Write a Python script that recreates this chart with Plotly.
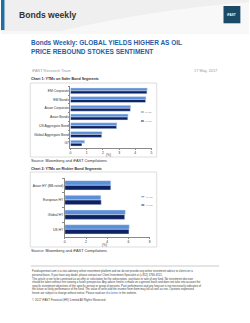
import plotly.graph_objects as go

# ---------------- data ----------------
cat1 = ["EM Corporate", "EM Bonds", "Asian Corporate", "Asian Bonds",
        "US Aggregate Bond", "Global Aggregate Bond", "G7"]
prev1 = [4.74, 4.66, 3.72, 3.56, 2.87, 1.95, 0.88]
curr1 = [4.72, 4.64, 3.70, 3.54, 2.85, 1.93, 0.71]
ticks1 = [0, 1, 2, 3, 4, 5]

cat2 = ["Asian HY (BB-rated)", "European HY", "Global HY", "US HY"]
prev2 = [4.33, 3.40, 5.70, 6.07]
curr2 = [4.33, 3.43, 5.64, 6.04]
ticks2 = [0, 2, 4, 6, 8]

legend_names = ["10 May", "17 May"]

W, H = 250, 323
LIGHT = "#5b8fd9"
DARK = "#0c2262"
FONT = "Liberation Sans"


def px(x):
    return x / W


def py(y):
    return 1 - y / H


fig = go.Figure()

# chart 1 bars
fig.add_trace(go.Bar(y=cat1, x=prev1, orientation="h", marker_color=LIGHT,
                     width=0.34, offset=-0.34, xaxis="x", yaxis="y",
                     name=legend_names[0], showlegend=False))
fig.add_trace(go.Bar(y=cat1, x=curr1, orientation="h", marker_color=DARK,
                     width=0.34, offset=0.0, xaxis="x", yaxis="y",
                     name=legend_names[1], showlegend=False))
# chart 2 bars
fig.add_trace(go.Bar(y=cat2, x=prev2, orientation="h", marker_color=LIGHT,
                     width=0.32, offset=-0.32, xaxis="x2", yaxis="y2",
                     name=legend_names[0], showlegend=False))
fig.add_trace(go.Bar(y=cat2, x=curr2, orientation="h", marker_color=DARK,
                     width=0.32, offset=0.0, xaxis="x2", yaxis="y2",
                     name=legend_names[1], showlegend=False))

axis_common = dict(showgrid=False, zeroline=False, showline=True,
                   linecolor="#8a8a8a", linewidth=0.6, ticks="outside",
                   ticklen=1.5, tickwidth=0.5, tickcolor="#8a8a8a",
                   tickfont=dict(family=FONT, size=3.4, color="#333"))

fig.update_layout(
    width=W, height=H, margin=dict(l=0, r=0, t=0, b=0),
    paper_bgcolor="white", plot_bgcolor="white", barmode="overlay",
    xaxis=dict(domain=[px(70), px(151.7)], range=[0, 5], tickvals=ticks1,
               anchor="y", **axis_common),
    yaxis=dict(domain=[py(147.5), py(86.5)], categoryorder="array",
               categoryarray=cat1, range=[6.5, -0.5], anchor="x",
               tickson="boundaries", **axis_common),
    xaxis2=dict(domain=[px(64.3), px(150)], range=[0, 8], tickvals=ticks2,
                anchor="y2", **axis_common),
    yaxis2=dict(domain=[py(236.7), py(178)], categoryorder="array",
                categoryarray=cat2, range=[3.5, -0.5], anchor="x2",
                tickson="boundaries", **axis_common),
    font=dict(family=FONT),
)

shapes = []
annos = []


def rect(x0, y0, x1, y1, fill=None, line=None, lw=0):
    shapes.append(dict(type="rect", xref="paper", yref="paper",
                       x0=px(x0), x1=px(x1), y0=py(y1), y1=py(y0),
                       fillcolor=fill or "rgba(0,0,0,0)",
                       line=dict(color=line or "rgba(0,0,0,0)", width=lw),
                       layer="below"))


def text(x, y, s, size, color="#333", bold=False, xanchor="left",
         yanchor="middle", align="left"):
    if bold:
        s = "<b>" + s + "</b>"
    annos.append(dict(xref="paper", yref="paper", x=px(x), y=py(y), text=s,
                      showarrow=False, xanchor=xanchor, yanchor=yanchor,
                      align=align, borderpad=0,
                      font=dict(family=FONT, size=size, color=color)))


# ---------------- header ----------------
rect(0, 0, 250, 31, fill="#efefef")
shapes.append(dict(type="path", xref="paper", yref="paper",
                   path=f"M {px(60)},{py(31)} Q {px(150)},{py(10)} {px(250)},{py(2)} "
                        f"L {px(250)},{py(31)} Z",
                   fillcolor="#f8f8f8", line=dict(width=0), layer="below"))
rect(0, 31, 250, 34, fill="#f7f7f7")
rect(0, 0, 3.5, 30, fill="#1f6ea4")
rect(224.3, 6, 241.3, 23.3, fill="#1b4a66")
text(232.8, 14.7, "iFAST", 3, color="white", bold=True, xanchor="center")
text(17.3, 15, "Bonds weekly", 8.6, color="#333", bold=True)

# ---------------- title block ----------------
text(29.5, 43, "Bonds Weekly: GLOBAL YIELDS HIGHER AS OIL", 6.5,
     color="#1f5ea8", bold=True)
text(29.5, 51, "PRICE REBOUND STOKES SENTIMENT", 6.5, color="#1f5ea8", bold=True)
text(30, 70, "iFAST Research Team", 3.9, color="#9a9a9a")
text(218.5, 70, "17 May, 2017", 3.9, color="#9a9a9a", xanchor="right")

# ---------------- chart 1 ----------------
text(29.5, 79.3, "Chart 1: YTMs on Safer Bond Segments", 3.6, bold=True)
rect(29.5, 83, 157, 157, line="#cfcfcf", lw=0.7)
text(105, 155.3, "(%)", 3.2)
text(29.5, 160.7, "Source: Bloomberg and iFAST Compilations", 3.9)

# chart 1 legend
for i, (yy, col) in enumerate([(112, LIGHT), (121, DARK)]):
    rect(141, yy - 0.5, 144, yy + 0.5, fill=col)
    text(144.6, yy, legend_names[i], 2.2, color="#888")

# ---------------- chart 2 ----------------
text(29.5, 169.3, "Chart 2: YTMs on Riskier Bond Segments", 3.6, bold=True)
rect(29.5, 172, 157, 247, line="#cfcfcf", lw=0.7)
text(101, 244.6, "(%)", 3.2)
text(29.5, 250.3, "Source: Bloomberg and iFAST Compilations", 3.9)

for i, (yy, col) in enumerate([(196.7, LIGHT), (205, DARK)]):
    rect(141.5, yy - 0.5, 144.5, yy + 0.5, fill=col)
    text(145, yy, legend_names[i], 2.2, color="#888")

# ---------------- footer ----------------
rect(30, 265.3, 220, 266.8, fill="#dcdcdc")
disclaimer = [
    "Fundsupermart.com is a non-advisory online investment platform and we do not provide any online investment advice to clients on a",
    "personal basis. If you have any doubt, please contact our Client Investment Specialist at (+852) 3766 4321.",
    "This article is not to be construed as an offer or solicitation for the subscription, purchase or sale of any fund. No investment decision",
    "should be taken without first viewing a fund's prospectus. Any advice herein is made on a general basis and does not take into account the",
    "specific investment objectives of the specific person or group of persons. Past performance and any forecast is not necessarily indicative of",
    "the future or likely performance of the fund. The value of units and the income from them may fall as well as rise. Opinions expressed",
    "herein are subject to change without notice. Please read our <span style='color:#3a6fd0'>disclaimer</span> in the website.",
]
for i, line in enumerate(disclaimer):
    text(30, 271.3 + i * 3.6, line, 2.75, color="#444")
text(30, 299.7, "© 2017 iFAST Financial (HK) Limited All Rights Reserved.", 2.9,
     color="#444")

fig.update_layout(shapes=shapes, annotations=annos)
fig.write_html("out.html", config={"displayModeBar": False})
